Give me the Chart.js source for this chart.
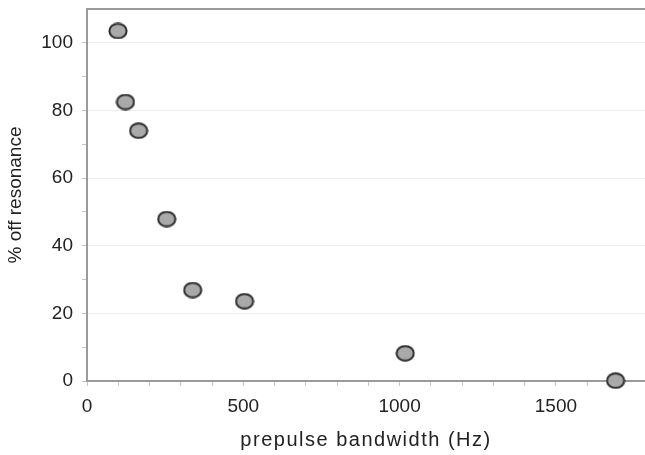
<!DOCTYPE html>
<html>
<head>
<meta charset="utf-8">
<script src="https://cdn.jsdelivr.net/npm/chart.js@4.4.1/dist/chart.umd.min.js"></script>
<style>
  html, body { margin: 0; padding: 0; background: #fff; }
  #wrap { width: 645px; height: 455px; }
</style>
</head>
<body>
<div id="wrap"><canvas id="chart" width="645" height="455"></canvas></div>
<script>
// data
const bandwidthHz = [99, 123, 165, 255, 338, 504, 1018, 1691];
const offResonance = [103.5, 82.5, 74, 47.9, 26.9, 23.6, 8.2, 0.1];
const xTicks = [0, 100, 200, 300, 400, 500, 600, 700, 800, 900, 1000, 1100, 1200, 1300, 1400, 1500, 1600, 1700];
const yTicks = [0, 10, 20, 30, 40, 50, 60, 70, 80, 90, 100, 110];
const xTitle = "prepulse bandwidth (Hz)";
const yTitle = "% off resonance";

const FONT = "'Liberation Sans', Arial, sans-serif";

// oval marker
function makeMarker() {
  const c = document.createElement("canvas");
  c.width = 20;
  c.height = 17;
  const g = c.getContext("2d");
  g.beginPath();
  g.ellipse(10, 8.5, 8.6, 7.3, 0, 0, Math.PI * 2);
  g.fillStyle = "#a9a9a9";
  g.fill();
  g.lineWidth = 2;
  g.strokeStyle = "#2b2b2b";
  g.stroke();
  return c;
}

const marker = makeMarker();

// x title is spaced out in the original, draw it by hand
const xTitlePlugin = {
  id: "xTitle",
  afterDraw(chart) {
    const { ctx, chartArea } = chart;
    ctx.save();
    ctx.font = "20px " + FONT;
    ctx.letterSpacing = "1.5px";
    ctx.fillStyle = "#222";
    ctx.textAlign = "center";
    ctx.textBaseline = "middle";
    ctx.fillText(xTitle, (chartArea.left + chartArea.right) / 2, 440);
    ctx.restore();
  },
};

new Chart(document.getElementById("chart"), {
  type: "scatter",
  data: {
    datasets: [
      {
        data: bandwidthHz.map((x, i) => ({ x: x, y: offResonance[i] })),
        pointStyle: marker,
        pointRadius: 9,
        pointHoverRadius: 9,
        clip: false,
      },
    ],
  },
  plugins: [xTitlePlugin],
  options: {
    responsive: false,
    animation: false,
    layout: { autoPadding: false, padding: { top: 9, right: 0, left: 0, bottom: 0 } },
    plugins: {
      legend: { display: false },
      tooltip: { enabled: false },
    },
    scales: {
      x: {
        type: "linear",
        min: 0,
        max: 1785,
        afterBuildTicks: (scale) => {
          scale.ticks = xTicks.map((v) => ({ value: v }));
        },
        afterFit: (scale) => {
          scale.height = 74;
          scale.paddingLeft = 0;
          scale.paddingRight = 0;
        },
        border: { color: "#9a9a9a", width: 2 },
        grid: {
          drawOnChartArea: false,
          tickLength: 5,
          tickColor: "#c4c4c4",
        },
        ticks: {
          autoSkip: false,
          maxRotation: 0,
          padding: 9,
          color: "#222",
          font: { family: FONT, size: 19 },
          callback: (v) => (v % 500 === 0 ? v : ""),
        },
      },
      y: {
        min: 0,
        max: 110,
        afterBuildTicks: (scale) => {
          scale.ticks = yTicks.map((v) => ({ value: v }));
        },
        afterFit: (scale) => {
          scale.width = 87;
          scale.paddingTop = 0;
          scale.paddingBottom = 0;
        },
        border: { color: "#9a9a9a", width: 2 },
        grid: {
          tickLength: 5,
          color: (ctx) => (ctx.tick.value === 110 ? "#9a9a9a" : ctx.tick.value % 20 === 0 ? "#efefef" : "rgba(0,0,0,0)"),
          lineWidth: (ctx) => (ctx.tick.value === 110 ? 2 : 1),
          tickColor: (ctx) => (ctx.tick.value === 110 ? "rgba(0,0,0,0)" : "#c4c4c4"),
        },
        ticks: {
          autoSkip: false,
          padding: 9,
          color: "#222",
          font: { family: FONT, size: 19 },
          callback: (v) => (v % 20 === 0 && v <= 100 ? v : ""),
        },
        title: {
          display: true,
          text: yTitle,
          color: "#222",
          font: { family: FONT, size: 19 },
          padding: { top: 4, bottom: 0 },
        },
      },
    },
  },
});
</script>
</body>
</html>
